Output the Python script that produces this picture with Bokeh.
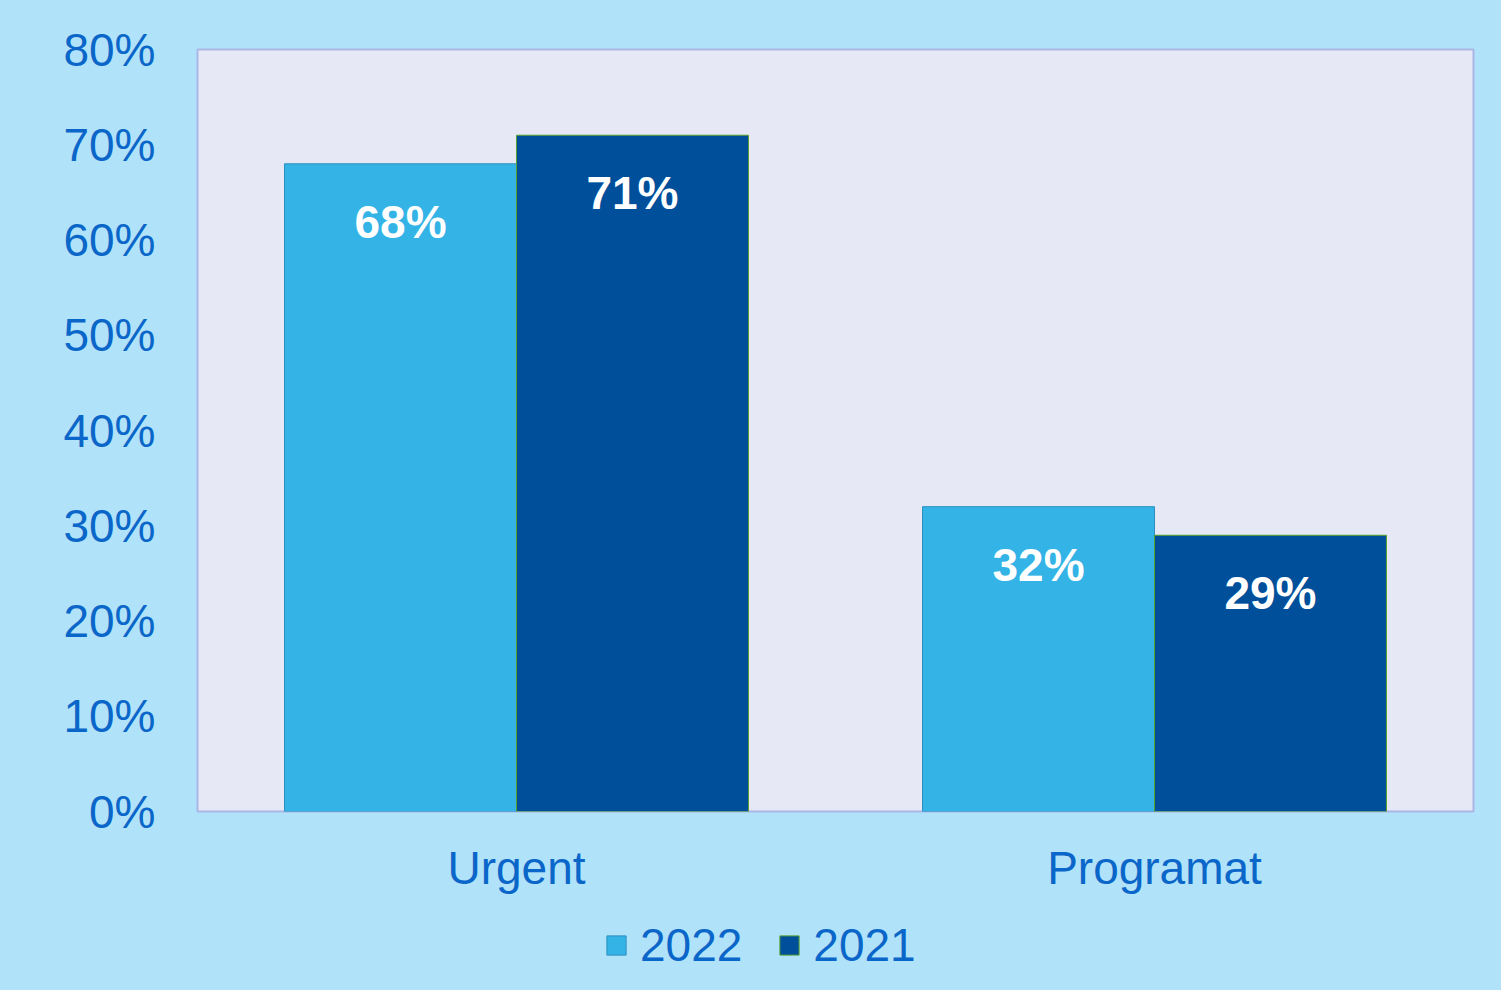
from bokeh.plotting import figure
from bokeh.layouts import column
from bokeh.models import (FactorRange, Range1d, ColumnDataSource, LabelSet, Legend,
                          FixedTicker, PrintfTickFormatter)
from bokeh.core.properties import value
from bokeh.transform import dodge
from bokeh.embed import file_html
from bokeh.resources import INLINE

categories = ["Urgent", "Programat"]
series_names = ["2022", "2021"]
values_2022 = [68, 32]
values_2021 = [71, 29]
y_ticks = [0, 10, 20, 30, 40, 50, 60, 70, 80]

FONT = "Liberation Sans"
TXT = "#0a66c8"
BG = "#b0e2fa"
C22, L22 = "#33b3e6", "#2b8fc0"
C21, L21 = "#004f9b", "#5aa02c"

p = figure(width=1501, height=900, output_backend="svg", toolbar_location=None,
           x_range=FactorRange(factors=categories, range_padding=0),
           y_range=Range1d(0, 80),
           min_border_left=197, min_border_right=28, min_border_top=49, min_border_bottom=89,
           styles={"background-color": BG})

p.background_fill_color = "#e6e8f5"
p.border_fill_color = BG
p.outline_line_color = "#a9b6e6"
p.outline_line_width = 2
p.xgrid.visible = False
p.ygrid.visible = False

src22 = ColumnDataSource(dict(cat=categories, val=values_2022,
                              lbl=[f"{v}%" for v in values_2022]))
src21 = ColumnDataSource(dict(cat=categories, val=values_2021,
                              lbl=[f"{v}%" for v in values_2021]))

bw = 0.3636
p.vbar(x=dodge("cat", -bw / 2, range=p.x_range), top="val", width=bw, source=src22,
       fill_color=C22, line_color=L22, line_width=1)
p.vbar(x=dodge("cat", bw / 2, range=p.x_range), top="val", width=bw, source=src21,
       fill_color=C21, line_color=L21, line_width=1)

for src, off in ((src22, -bw / 2), (src21, bw / 2)):
    p.add_layout(LabelSet(x=dodge("cat", off, range=p.x_range), y="val", text="lbl", source=src,
                          y_offset=-58, text_align="center", text_baseline="middle",
                          text_color="white", text_font=value(FONT), text_font_style="bold",
                          text_font_size="46px"))

p.yaxis.ticker = FixedTicker(ticks=y_ticks)
p.yaxis.formatter = PrintfTickFormatter(format="%d%%")
for ax in (p.xaxis[0], p.yaxis[0]):
    ax.axis_line_color = None
    ax.major_tick_line_color = None
    ax.minor_tick_line_color = None
    ax.major_tick_out = 0
    ax.major_tick_in = 0
    ax.major_label_text_font = FONT
    ax.major_label_text_color = TXT
    ax.major_label_text_font_size = "46px"
p.yaxis.major_label_standoff = 42
p.xaxis.major_label_standoff = 30

# legend strip below the chart (hidden copies of the series supply the legend swatches)
lg = figure(width=1501, height=90, output_backend="svg", toolbar_location=None,
            x_range=FactorRange(factors=categories, range_padding=0), y_range=Range1d(0, 80),
            min_border_left=197, min_border_right=28, min_border_top=0, min_border_bottom=0,
            styles={"background-color": BG})
lg.axis.visible = False
lg.grid.visible = False
lg.outline_line_color = None
lg.background_fill_alpha = 0
lg.border_fill_color = BG
e22 = lg.vbar(x="cat", top="val", width=bw, source=src22, fill_color=C22, line_color=L22,
              line_width=1, visible=False)
e21 = lg.vbar(x="cat", top="val", width=bw, source=src21, fill_color=C21, line_color=L21,
              line_width=1, visible=False)
legend = Legend(items=[(series_names[0], [e22]), (series_names[1], [e21])],
                orientation="horizontal", location=(407, 18),
                glyph_width=24, glyph_height=24, label_standoff=12, spacing=35,
                padding=0, margin=0, border_line_color=None, background_fill_alpha=0,
                inactive_fill_alpha=0,
                label_text_font=FONT, label_text_font_size="46px", label_text_color=TXT)
lg.add_layout(legend, "center")

layout = column(p, lg, spacing=0, styles={"background-color": BG})
open("out.html", "w").write(file_html(layout, INLINE))
